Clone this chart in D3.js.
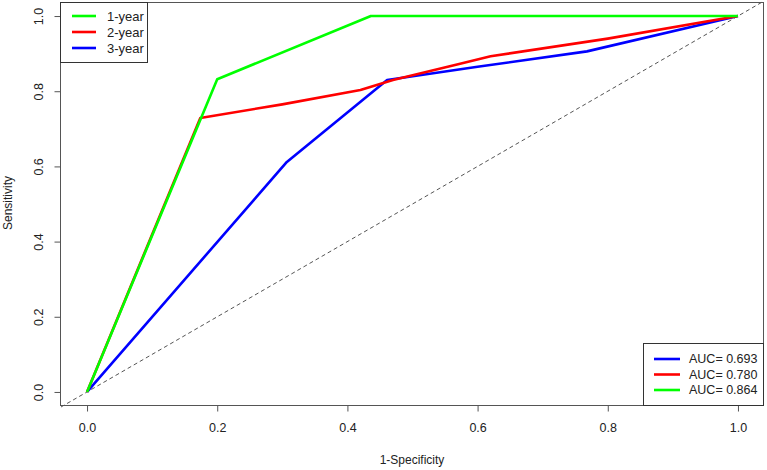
<!DOCTYPE html>
<html><head><meta charset="utf-8">
<script src="https://d3js.org/d3.v7.min.js"></script>
<style>body{margin:0;background:#fff}svg{display:block}text{font-family:"Liberation Sans",Arial,sans-serif;fill:#222}</style>
</head><body>
<script>
const xTicks = [0, 0.2, 0.4, 0.6, 0.8, 1.0];
const yTicks = [0, 0.2, 0.4, 0.6, 0.8, 1.0];
const tickLabels = ["0.0", "0.2", "0.4", "0.6", "0.8", "1.0"];
const seriesNames = ["1-year", "2-year", "3-year"];
const seriesColors = ["#00ff00", "#ff0000", "#0000ff"];
const fpr1 = [0, 0.200, 0.436, 1.0];
const tpr1 = [0, 0.832, 1.0, 1.0];
const fpr2 = [0, 0.174, 0.30, 0.42, 0.47, 0.57, 0.62, 0.80, 1.0];
const tpr2 = [0, 0.729, 0.765, 0.803, 0.83, 0.872, 0.893, 0.940, 1.0];
const fpr3 = [0, 0.307, 0.461, 0.60, 0.768, 1.0];
const tpr3 = [0, 0.612, 0.830, 0.865, 0.906, 1.0];
const aucLabels = ["AUC= 0.693", "AUC= 0.780", "AUC= 0.864"];
const aucColors = ["#0000ff", "#ff0000", "#00ff00"];

const W = 767, H = 470;
const svg = d3.select("body").append("svg").attr("width", W).attr("height", H);
const x = d3.scaleLinear().domain([-0.04, 1.04]).range([61, 764]);
const y = d3.scaleLinear().domain([-0.04, 1.04]).range([407, 1]);

svg.append("line").attr("x1", x(-0.04)).attr("y1", y(-0.04)).attr("x2", x(1.04)).attr("y2", y(1.04))
  .attr("stroke", "#555").attr("stroke-width", 1).attr("stroke-dasharray", "4,3");

const line = d3.line().x(d => x(d[0])).y(d => y(d[1]));
const series = [[fpr1, tpr1], [fpr2, tpr2], [fpr3, tpr3]];
[2, 1, 0].forEach(i => {
  const pts = series[i][0].map((v, j) => [v, series[i][1][j]]);
  svg.append("path").datum(pts).attr("d", line).attr("fill", "none")
    .attr("stroke", seriesColors[i]).attr("stroke-width", 2.6).attr("stroke-linejoin", "round");
});

svg.append("rect").attr("x", 60.5).attr("y", 2.5).attr("width", 703).attr("height", 403)
  .attr("fill", "none").attr("stroke", "#555").attr("stroke-width", 1);

const gx = svg.append("g").attr("transform", "translate(0,405.5)")
  .call(d3.axisBottom(x).tickValues(xTicks).tickFormat((d, i) => tickLabels[i]).tickSize(6).tickPadding(12));
gx.select(".domain").remove();
gx.selectAll("line").attr("stroke", "#555");
gx.selectAll("text").attr("font-size", 12.5).style("fill", "#222");

const gy = svg.append("g").attr("transform", "translate(60.5,0)")
  .call(d3.axisLeft(y).tickValues(yTicks).tickFormat((d, i) => tickLabels[i]).tickSize(6));
gy.select(".domain").remove();
gy.selectAll("line").attr("stroke", "#555");
gy.selectAll(".tick text").attr("font-size", 12.5).style("fill", "#222")
  .attr("text-anchor", "middle").attr("x", 0).attr("y", 0).attr("dy", "0.35em")
  .attr("transform", "translate(-22,0) rotate(-90)");

svg.append("text").attr("x", 412).attr("y", 464).attr("text-anchor", "middle").attr("font-size", 12).text("1-Specificity");
svg.append("text").attr("transform", "translate(12,203) rotate(-90)").attr("text-anchor", "middle").attr("font-size", 12).text("Sensitivity");

const lg = svg.append("g");
lg.append("rect").attr("x", 60.5).attr("y", 2.5).attr("width", 87).attr("height", 60).attr("fill", "#fff").attr("stroke", "#333");
seriesNames.forEach((n, i) => {
  const yy = 16 + i * 16;
  lg.append("line").attr("x1", 72).attr("x2", 96).attr("y1", yy).attr("y2", yy).attr("stroke", seriesColors[i]).attr("stroke-width", 2.6);
  lg.append("text").attr("x", 107).attr("y", yy).attr("dy", "0.35em").attr("font-size", 13).text(n);
});

const lr = svg.append("g");
lr.append("rect").attr("x", 643.5).attr("y", 343.5).attr("width", 120).attr("height", 62).attr("fill", "#fff").attr("stroke", "#333");
aucLabels.forEach((n, i) => {
  const yy = 359 + i * 15.5;
  lr.append("line").attr("x1", 654).attr("x2", 680).attr("y1", yy).attr("y2", yy).attr("stroke", aucColors[i]).attr("stroke-width", 2.6);
  lr.append("text").attr("x", 689).attr("y", yy).attr("dy", "0.35em").attr("font-size", 12.5).text(n);
});
</script>
</body></html>
